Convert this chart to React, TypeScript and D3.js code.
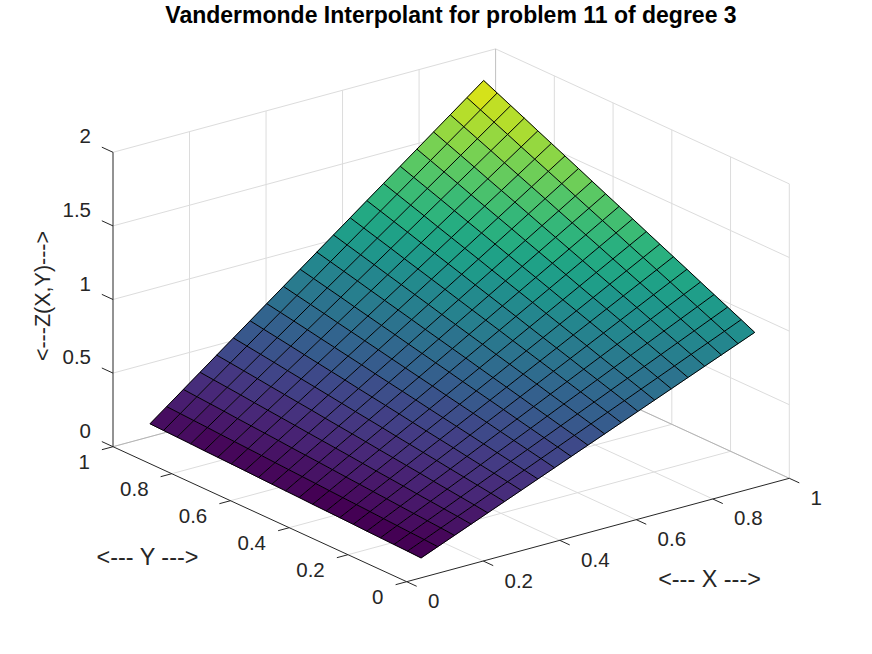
import React from "react";
import * as d3 from "d3";

const titleText = "Vandermonde Interpolant for problem 11 of degree 3";
const xTicks = [0, 0.2, 0.4, 0.6, 0.8, 1];
const yTicks = [0, 0.2, 0.4, 0.6, 0.8, 1];
const zTicks = [0, 0.5, 1, 1.5, 2];
const xGrid = [0.076,0.1196,0.1632,0.2068,0.2504,0.294,0.3376,0.3812,0.4248,0.4684,0.512,0.5556,0.5992,0.6428,0.6864,0.73,0.7736,0.8172,0.8608,0.9044,0.948];
const yGrid = [0.05,0.0962,0.1423,0.1885,0.2346,0.2808,0.3269,0.3731,0.4192,0.4654,0.5115,0.5577,0.6038,0.65,0.6961,0.7423,0.7884,0.8346,0.8807,0.9269,0.973];
const zRows = [
[.062,.108,.154,.200,.246,.292,.338,.384,.430,.476,.522,.568,.614,.660,.706,.752,.798,.844,.890,.936,.982],
[.066,.114,.162,.210,.258,.306,.354,.402,.450,.498,.546,.594,.642,.690,.738,.786,.834,.882,.930,.978,1.026],
[.069,.119,.169,.219,.269,.319,.369,.419,.469,.519,.569,.619,.669,.719,.769,.819,.869,.919,.969,1.019,1.069],
[.072,.124,.176,.228,.280,.332,.384,.436,.488,.540,.592,.644,.696,.748,.800,.852,.904,.956,1.008,1.060,1.112],
[.075,.129,.183,.237,.291,.345,.399,.453,.507,.561,.615,.669,.723,.777,.831,.885,.939,.993,1.047,1.101,1.155],
[.079,.135,.191,.247,.303,.359,.415,.471,.527,.583,.639,.695,.751,.807,.863,.919,.975,1.031,1.087,1.143,1.199],
[.082,.140,.198,.256,.314,.372,.430,.488,.546,.604,.662,.720,.778,.836,.894,.952,1.010,1.068,1.126,1.184,1.242],
[.085,.145,.205,.265,.325,.385,.445,.505,.565,.625,.685,.745,.805,.865,.925,.985,1.045,1.105,1.165,1.225,1.285],
[.088,.150,.212,.274,.336,.398,.460,.522,.584,.646,.708,.770,.832,.894,.956,1.018,1.080,1.142,1.204,1.266,1.328],
[.092,.156,.220,.284,.348,.412,.476,.540,.604,.668,.732,.796,.860,.924,.988,1.052,1.116,1.180,1.244,1.308,1.372],
[.095,.161,.227,.293,.359,.425,.491,.557,.623,.689,.755,.821,.887,.953,1.019,1.085,1.151,1.217,1.283,1.349,1.415],
[.098,.166,.234,.302,.370,.438,.506,.574,.642,.710,.778,.846,.914,.982,1.050,1.118,1.186,1.254,1.322,1.390,1.458],
[.101,.171,.241,.311,.381,.451,.521,.591,.661,.731,.801,.871,.941,1.011,1.081,1.151,1.221,1.291,1.361,1.431,1.501],
[.105,.177,.249,.321,.393,.465,.537,.609,.681,.753,.825,.897,.969,1.041,1.113,1.185,1.257,1.329,1.401,1.473,1.545],
[.108,.182,.256,.330,.404,.478,.552,.626,.700,.774,.848,.922,.996,1.070,1.144,1.218,1.292,1.366,1.440,1.514,1.588],
[.111,.187,.263,.339,.415,.491,.567,.643,.719,.795,.871,.947,1.023,1.099,1.175,1.251,1.327,1.403,1.479,1.555,1.631],
[.114,.192,.270,.348,.426,.504,.582,.660,.738,.816,.894,.972,1.050,1.128,1.206,1.284,1.362,1.440,1.518,1.596,1.674],
[.118,.198,.278,.358,.438,.518,.598,.678,.758,.838,.918,.998,1.078,1.158,1.238,1.318,1.398,1.478,1.558,1.638,1.718],
[.121,.203,.285,.367,.449,.531,.613,.695,.777,.859,.941,1.023,1.105,1.187,1.269,1.351,1.433,1.515,1.597,1.679,1.761],
[.124,.208,.292,.376,.460,.544,.628,.712,.796,.880,.964,1.048,1.132,1.216,1.300,1.384,1.468,1.552,1.636,1.720,1.804],
[.127,.213,.299,.385,.471,.557,.643,.729,.815,.901,.987,1.073,1.159,1.245,1.331,1.417,1.503,1.589,1.675,1.761,1.847],
];

const FONT = "'Liberation Sans', Arial, sans-serif";
const TEXT = "#262626";

const xToPx = d3.scaleLinear().domain([0, 1]).range([0, 382.6]);
const xToPy = d3.scaleLinear().domain([0, 1]).range([0, -103.4]);
const yToPx = d3.scaleLinear().domain([0, 1]).range([0, -293.7]);
const yToPy = d3.scaleLinear().domain([0, 1]).range([0, -135]);
const zToPy = d3.scaleLinear().domain([0, 2]).range([0, -294.4]);
const OX = 406.7;
const OY = 581.7;
const project = (x: number, y: number, z: number): [number, number] => [
  OX + xToPx(x) + yToPx(y),
  OY + xToPy(x) + yToPy(y) + zToPy(z),
];

const pathOf = (pts: [number, number, number][]) =>
  d3.line()(pts.map((p) => project(p[0], p[1], p[2])))!;

const zAll = zRows.flat();
const colors = d3.range(64).map((k) => d3.interpolateViridis(k / 63));
const colorScale = d3.scaleQuantize<string>().domain(d3.extent(zAll) as [number, number]).range(colors);

const GRID = "#dcdcdc";
const EDGE = "#b4b4b4";

export default function App() {
  const cells: React.ReactNode[] = [];
  for (let j = yGrid.length - 2; j >= 0; j--) {
    for (let i = xGrid.length - 2; i >= 0; i--) {
      const d = pathOf([
        [xGrid[i], yGrid[j], zRows[j][i]],
        [xGrid[i + 1], yGrid[j], zRows[j][i + 1]],
        [xGrid[i + 1], yGrid[j + 1], zRows[j + 1][i + 1]],
        [xGrid[i], yGrid[j + 1], zRows[j + 1][i]],
      ]) + "Z";
      const c = colorScale(zRows[j][i]);
      cells.push(<path key={`${i}-${j}`} d={d} fill={c} stroke={c} strokeWidth={0.6} />);
    }
  }
  const meshRows = yGrid.map((y, j) =>
    pathOf(xGrid.map((x, i) => [x, y, zRows[j][i]] as [number, number, number]))
  );
  const meshCols = xGrid.map((x, i) =>
    pathOf(yGrid.map((y, j) => [x, y, zRows[j][i]] as [number, number, number]))
  );
  return (
    <svg width={872} height={654} style={{ position: "absolute", left: 0, top: 0, display: "block", background: "#fff" }}>
      <g fill="none" stroke={GRID} strokeWidth={1}>
        {xTicks.slice(1, -1).map((t) => (
          <path key={"gx" + t} d={pathOf([[t, 0, 0], [t, 1, 0], [t, 1, 2]])} />
        ))}
        {yTicks.slice(1, -1).map((t) => (
          <path key={"gy" + t} d={pathOf([[0, t, 0], [1, t, 0], [1, t, 2]])} />
        ))}
        {zTicks.map((t) => (
          <path key={"gz" + t} d={pathOf([[0, 1, t], [1, 1, t], [1, 0, t]])} />
        ))}
        <path d={pathOf([[1, 0, 0], [1, 0, 2]])} />
        <path d={pathOf([[1, 1, 0], [1, 1, 2]])} stroke="#c0c0c0" />
        <path d={pathOf([[0, 1, 0], [1, 1, 0], [1, 0, 0]])} stroke={EDGE} />
      </g>
      <g>{cells}</g>
      <g fill="none" stroke="#000" strokeWidth={1}>
        {meshRows.map((d, k) => <path key={"mr" + k} d={d} />)}
        {meshCols.map((d, k) => <path key={"mc" + k} d={d} />)}
      </g>
      <g fill="none" stroke={TEXT} strokeWidth={1}>
        <path d={pathOf([[0, 0, 0], [1, 0, 0]])} />
        <path d={pathOf([[0, 0, 0], [0, 1, 0]])} />
        <path d={pathOf([[0, 1, 0], [0, 1, 2]])} />
        {xTicks.map((t) => (
          <path key={"tx" + t} d={pathOf([[t, 0, 0], [t, -0.034, 0]])} />
        ))}
        {yTicks.map((t) => (
          <path key={"ty" + t} d={pathOf([[0, t, 0], [-0.029, t, 0]])} />
        ))}
        {zTicks.map((t) => (
          <path key={"tz" + t} d={pathOf([[0, 1, t], [0, 1.038, t]])} />
        ))}
      </g>
      <g fontFamily={FONT} fontSize={20.5} fill={TEXT}>
        {xTicks.map((t) => {
          const [px, py] = project(t, 0, 0);
          return <text key={"lx" + t} x={px + 21.3} y={py + 26.5}>{String(t)}</text>;
        })}
        {yTicks.map((t) => {
          const [px, py] = project(0, t, 0);
          return <text key={"ly" + t} x={px - 23.2} y={py + 22} textAnchor="end">{String(t)}</text>;
        })}
        {zTicks.map((t) => {
          const [px, py] = project(0, 1, t);
          return <text key={"lz" + t} x={px - 22} y={py - 9} textAnchor="end">{String(t)}</text>;
        })}
      </g>
      <g fontFamily={FONT} fontSize={23.4} fill={TEXT}>
        <text x={147.5} y={565} textAnchor="middle">{"<--- Y --->"}</text>
        <text x={709.5} y={587} textAnchor="middle">{"<--- X --->"}</text>
      </g>
      <text transform="translate(50,296) rotate(-90)" textAnchor="middle" fontFamily={FONT} fontSize={21.5} fill={TEXT}>{"<---Z(X,Y)--->"}</text>
      <text x={451} y={22.5} textAnchor="middle" fontFamily={FONT} fontWeight="bold" fontSize={23} fill="#000">{titleText}</text>
    </svg>
  );
}
